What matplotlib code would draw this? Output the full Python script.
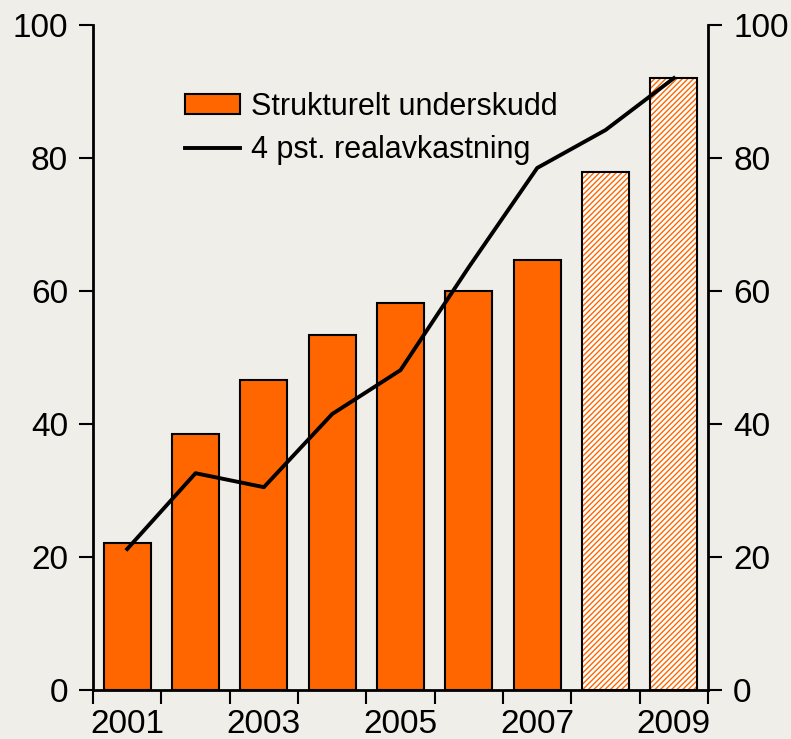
import numpy as np
import matplotlib.pyplot as plt

plt.rcParams['font.family'] = ['Liberation Sans', 'DejaVu Sans']

years = [2001, 2002, 2003, 2004, 2005, 2006, 2007, 2008, 2009]
underskudd = [22.1, 38.5, 46.6, 53.4, 58.2, 60.0, 64.7, 77.9, 92.0]
realavkastning = [21.2, 32.6, 30.5, 41.5, 48.1, 63.6, 78.5, 84.2, 92.0]
n_actual = 7          # 2008-2009 er anslag (skravert)

BG = "#efeee8"
ORANGE = "#ff6600"

fig = plt.figure(figsize=(7.91, 7.39), dpi=100, facecolor=BG)
ax = fig.add_axes([0.1176, 0.0663, 0.7775, 0.8999], facecolor=BG)
x = np.arange(len(years))
w = 0.69

# faktiske tall: hel farge
hb = ax.bar(x[:n_actual], underskudd[:n_actual], width=w, color=ORANGE,
            edgecolor="black", linewidth=1.5, zorder=2)
# anslag: hvit med oransje skravur
ax.bar(x[n_actual:], underskudd[n_actual:], width=w, color="white",
       edgecolor=ORANGE, hatch="//////", linewidth=0, zorder=2)
ax.bar(x[n_actual:], underskudd[n_actual:], width=w, fill=False,
       edgecolor="black", linewidth=1.5, zorder=3)

hl, = ax.plot(x, realavkastning, color="black", lw=2.8, zorder=4)

ax.set_xlim(-0.5, len(years) - 0.5)
ax.set_ylim(0, 100)
ax.set_yticks(range(0, 101, 20))

ax.set_xticks(x[::2])
ax.set_xticklabels([str(y) for y in years[::2]])
ax.set_xticks(np.arange(-0.5, len(years), 1.0), minor=True)
ax.tick_params(axis="x", which="major", length=0, pad=14, labelsize=24)
ax.tick_params(axis="x", which="minor", length=10, width=1.5, direction="out")
ax.tick_params(axis="y", which="major", length=10, width=1.5, labelsize=24, pad=8,
               left=True, right=True, labelleft=True, labelright=True)

ax.spines["top"].set_visible(False)
for s in ("left", "right", "bottom"):
    ax.spines[s].set_linewidth(2)

ax.legend([hb, hl], ["Strukturelt underskudd", "4 pst. realavkastning"],
          loc="upper left", bbox_to_anchor=(0.13, 0.918), frameon=False,
          fontsize=22, handlelength=1.8, handleheight=0.65, handletextpad=0.35,
          labelspacing=0.45, borderaxespad=0)

fig.savefig("out.png", dpi=100, facecolor=BG)
